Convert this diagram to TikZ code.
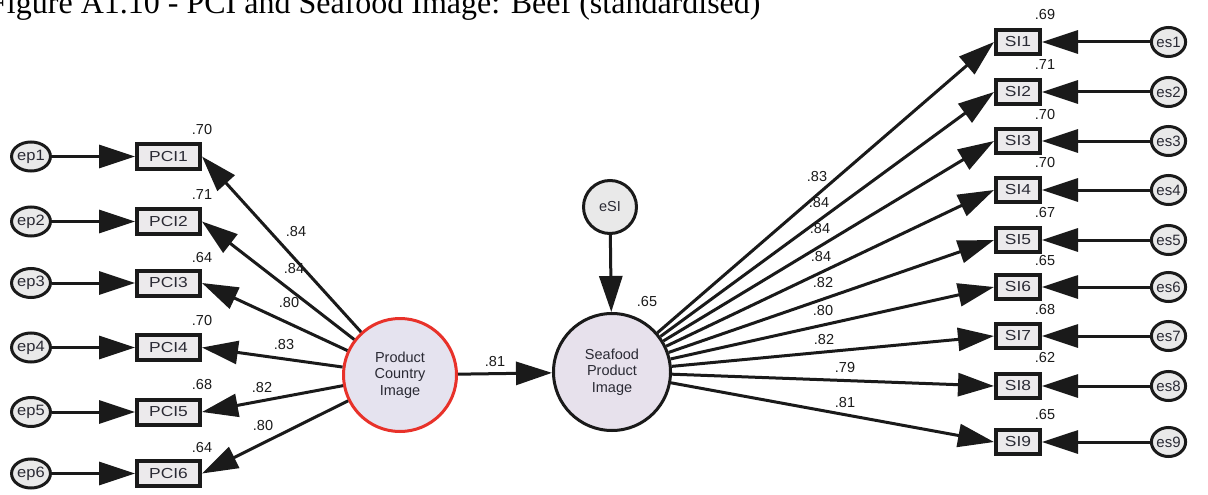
\documentclass[tikz,border=0pt]{standalone}
\usepackage{fontspec}
\setmainfont{Liberation Serif}
\setsansfont{Liberation Sans}
\usetikzlibrary{arrows.meta,shapes.geometric}

\definecolor{boxfill}{HTML}{ECEAEC}
\definecolor{errfill}{HTML}{E9E9E9}
\definecolor{pcifill}{HTML}{E5E3EF}
\definecolor{spifill}{HTML}{E7E1EC}
\definecolor{pcired}{HTML}{E8322A}
\definecolor{ink}{HTML}{1A1A1A}
\definecolor{labink}{HTML}{2A2A34}

% observed-variable names are set slightly wide
\newcommand{\widelabel}[1]{\scalebox{1.2}[1]{#1}}

\begin{document}
\begin{tikzpicture}[x=1pt,y=-1pt,
  conn/.style={line width=3pt, draw=ink, -{Triangle[length=36pt,width=23pt]}},
  obsbox/.style={draw=ink, line width=4pt, fill=boxfill, inner sep=0pt,
    minimum width=63pt, minimum height=25pt, text=labink,
    font=\sffamily\fontsize{14.5}{14.5}\selectfont},
  sibox/.style={obsbox, minimum width=44pt, minimum height=24pt},
  errnode/.style={ellipse, draw=ink, line width=3pt, fill=errfill, inner sep=0pt,
    minimum width=34pt, minimum height=29pt, text=labink,
    font=\sffamily\fontsize{15}{15}\selectfont},
  latent/.style={circle, draw=ink, line width=3pt, inner sep=0pt, align=center,
    text=labink, font=\sffamily\fontsize{14.5}{16.5}\selectfont},
  coef/.style={inner sep=0pt, text=ink, font=\sffamily\fontsize{14.5}{14.5}\selectfont},
]
\useasboundingbox (0,0) rectangle (1208,495);
\clip (0,0) rectangle (1208,495);
\fill[white] (0,0) rectangle (1208,495);

% heading
\node[anchor=base west, inner sep=0pt, font=\fontsize{32}{32}\selectfont] (title) at (-11,14)
  {Figure A1.10 - PCI and Seafood Image: Beef (standardised)};

% latent variables
\node[latent, draw=pcired, fill=pcifill, minimum size=113pt] (pci) at (400,375) {Product\\Country\\Image};
\node[latent, fill=spifill, minimum size=117pt] (spi) at (612,372) {Seafood\\Product\\Image};
\node[latent, fill=errfill, minimum size=53pt] (esi) at (610,207) {eSI};

% PCI indicators and their errors
\foreach \i/\y in {1/156.5, 2/221.5, 3/283, 4/347.5, 5/412, 6/473.5} {
  \node[errnode] (ep\i) at (31,\y) {\scalebox{1.1}[1]{ep\i}};
  \node[obsbox] (pci\i) at (168.5,\y) {\widelabel{PCI\i}};
  \draw[conn] (ep\i) -- (pci\i);
  \draw[conn] (pci) -- (pci\i.east);
}

% Seafood image indicators and their errors
\foreach \i/\y in {1/42, 2/92, 3/141, 4/190, 5/240, 6/287, 7/336, 8/386, 9/442} {
  \node[sibox] (si\i) at (1018,\y) {\widelabel{SI\i}};
  \node[errnode] (es\i) at (1168.5,\y) {es\i};
  \draw[conn] (es\i) -- (si\i);
  \draw[conn] (spi) -- (si\i.west);
}

% structural paths
\draw[conn] (pci) -- (spi);
\draw[conn] (esi) -- (spi);

% squared multiple correlations of PCI indicators
\foreach \v/\y [count=\k] in {.70/130, .71/194.5, .64/257.5, .70/321, .68/385, .64/448} {
  \node[coef] (rp\k) at (202,\y) {\v};
}
% squared multiple correlations of SI indicators
\foreach \v/\y [count=\k] in {.69/15, .71/65, .70/115, .70/163, .67/213, .65/261, .68/310, .62/358, .65/415} {
  \node[coef] (rs\k) at (1045,\y) {\v};
}

% loadings on PCI
\foreach \v/\x/\y [count=\k] in {.84/296/232, .84/294/269, .80/289/303, .83/284/345, .82/262/388, .80/263/426} {
  \node[coef] (lp\k) at (\x,\y) {\v};
}
% loadings on Seafood Product Image
\foreach \v/\x/\y [count=\k] in {.83/817/177, .84/819/203, .84/820/229, .84/821/257, .82/823/283, .80/823/311, .82/824/340, .79/845/368, .81/845/403} {
  \node[coef] (ls\k) at (\x,\y) {\v};
}

% structural estimates
\node[coef] (beta) at (495,362) {.81};
\node[coef] (rspi) at (647,302) {.65};
\end{tikzpicture}
\end{document}
